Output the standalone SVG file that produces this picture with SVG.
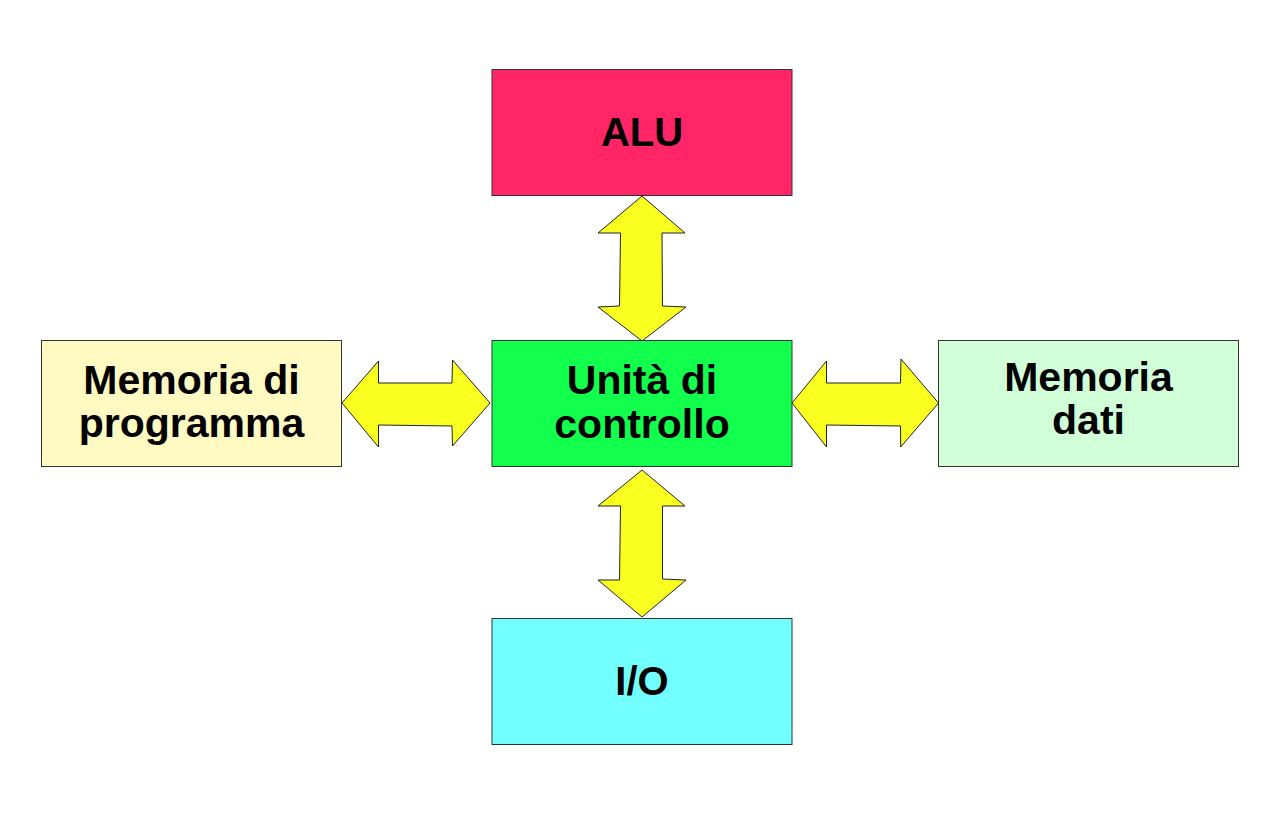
<svg xmlns="http://www.w3.org/2000/svg" width="1280" height="814" viewBox="0 0 1280 814">
<style>
.box{stroke:#333;stroke-width:1}
.lbl{font-family:"Liberation Sans",Arial,sans-serif;font-weight:bold;font-size:40px;fill:#000;text-anchor:middle}
.lbl2{font-size:41px}
.arr{fill:#f9ff1e;stroke:#222;stroke-width:1;stroke-linejoin:miter}
</style>
<rect width="1280" height="814" fill="#fff"/>
<g id="connectors">
<polygon class="arr" points="642,196 685,233 662,233 662.5,306 686,307 642,341 598,307 619.5,306 620.5,233 598,233"/>
<polygon class="arr" points="642,470 685,506 662.5,506 662.5,579 686,580 642,617 598,580 619.5,580 620.5,506 598,506"/>
<polygon class="arr" points="342,403 378.5,361 378.5,383 452,383 452.5,360 490,403 452.5,446 452,426 378.5,425 378.5,447"/>
<polygon class="arr" points="792,403 826.5,361 826.5,383 900.5,383 901,359 938.5,403 900.7,447 900.5,426 826.5,425 826.5,447"/>
</g>
<g id="alu">
<rect class="box" x="492" y="69.5" width="300" height="126" fill="#ff2566"/>
<text class="lbl" x="642" y="146">ALU</text>
</g>
<g id="memoria-programma">
<rect class="box" x="41.5" y="340.5" width="300" height="126" fill="#fff9c2"/>
<text class="lbl lbl2" x="191.5" y="393.5">Memoria di</text>
<text class="lbl lbl2" x="191.5" y="437">programma</text>
</g>
<g id="unita-controllo">
<rect class="box" x="492" y="340.5" width="300" height="126" fill="#12ff4e"/>
<text class="lbl lbl2" x="642" y="394">Unità di</text>
<text class="lbl lbl2" x="642" y="437.5">controllo</text>
</g>
<g id="memoria-dati">
<rect class="box" x="938.5" y="340.5" width="300" height="126" fill="#d0ffd8"/>
<text class="lbl lbl2" x="1088.5" y="390.5">Memoria</text>
<text class="lbl lbl2" x="1088.5" y="433.5">dati</text>
</g>
<g id="io">
<rect class="box" x="492" y="618.5" width="300" height="126" fill="#72ffff"/>
<text class="lbl" x="642" y="695">I/O</text>
</g>
</svg>
